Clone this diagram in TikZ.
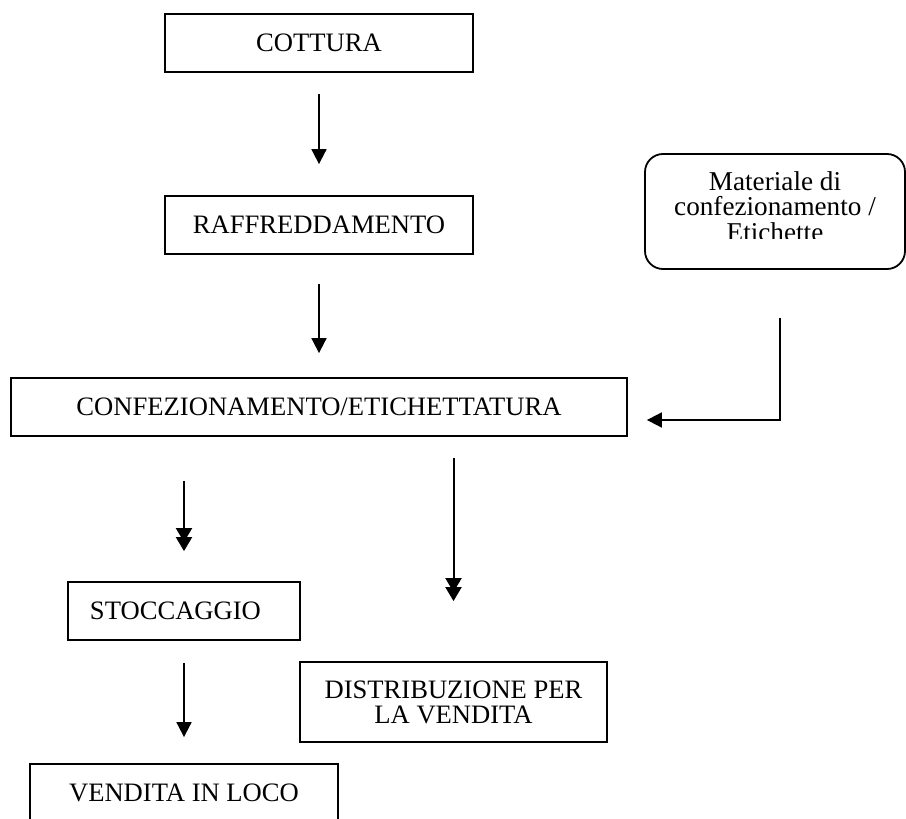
\documentclass[tikz,border=0pt]{standalone}
\usepackage{fontspec}
\setmainfont{Liberation Serif}
\usetikzlibrary{calc,arrows.meta}

\begin{document}
\begin{tikzpicture}[x=0.5pt,y=-0.5pt,
  every node/.style={font=\fontsize{13.3}{12.5}\selectfont},
  box/.style={draw,line width=0.9pt,inner sep=0pt,minimum height=29pt,align=center},
  roundbox/.style={draw,line width=0.9pt,rounded corners=9pt,inner sep=0pt},
  arr/.style={line width=0.9pt,-{Triangle[width=7.5pt,length=7.5pt]}},
  darr/.style={line width=1pt,-{Triangle[width=8pt,length=7pt,sep=-2.5pt]Triangle[width=8pt,length=7pt]}}]

  % page frame (also clips the boxes that run off the edge)
  \clip (0,0) rectangle (906,819);
  \fill[white] (0,0) rectangle (906,819);

  % process steps
  \node[box,minimum width=154pt] (cot)  at (319,43)  {COTTURA};
  \node[box,minimum width=154pt] (raf)  at (319,225) {RAFFREDDAMENTO};
  \node[box,minimum width=308pt] (conf) at (319,407) {CONFEZIONAMENTO/ETICHETTATURA};
  \node[box,inner xsep=11pt,text width=94pt,align=left] (stoc) at (184,611) {STOCCAGGIO};
  \node[box,minimum width=153.5pt,minimum height=40pt] (dist) at (453.5,702)
       {DISTRIBUZIONE PER\\LA VENDITA};
  \node[box,minimum width=154pt] (ven)  at (184,793) {VENDITA IN LOCO};

  % packaging material input (the frame cuts the last line)
  \node[roundbox,minimum width=130pt,minimum height=57.5pt] (mat) at (775,211.5) {};
  \begin{scope}
    \clip (645,154) rectangle (905,238);
    \node[align=center,inner sep=0pt,font=\fontsize{13.6}{12.6}\selectfont]
         (mattext) at ($(mat)+(0,-5)$)
         {Materiale di\\confezionamento /\\Etichette};
  \end{scope}

  % connectors
  \draw[arr] ($(cot.south)+(0,21)$) -- ($(raf.north)+(0,-31)$);
  \draw[arr] ($(raf.south)+(0,29)$) -- ($(conf.north)+(0,-24)$);
  \draw[darr] ($(conf.south -| stoc.north)+(0,44)$) -- ($(stoc.north)+(0,-30)$);
  \draw[darr] ($(conf.south -| dist.north)+(0,21)$) -- ($(dist.north)+(0,-60)$);
  \draw[arr] ($(stoc.south)+(0,22)$) -- ($(ven.north)+(0,-26)$);
  \draw[arr] ($(mat.south)+(5,48)$) |- ($(conf.east)+(19,13)$);
\end{tikzpicture}
\end{document}
